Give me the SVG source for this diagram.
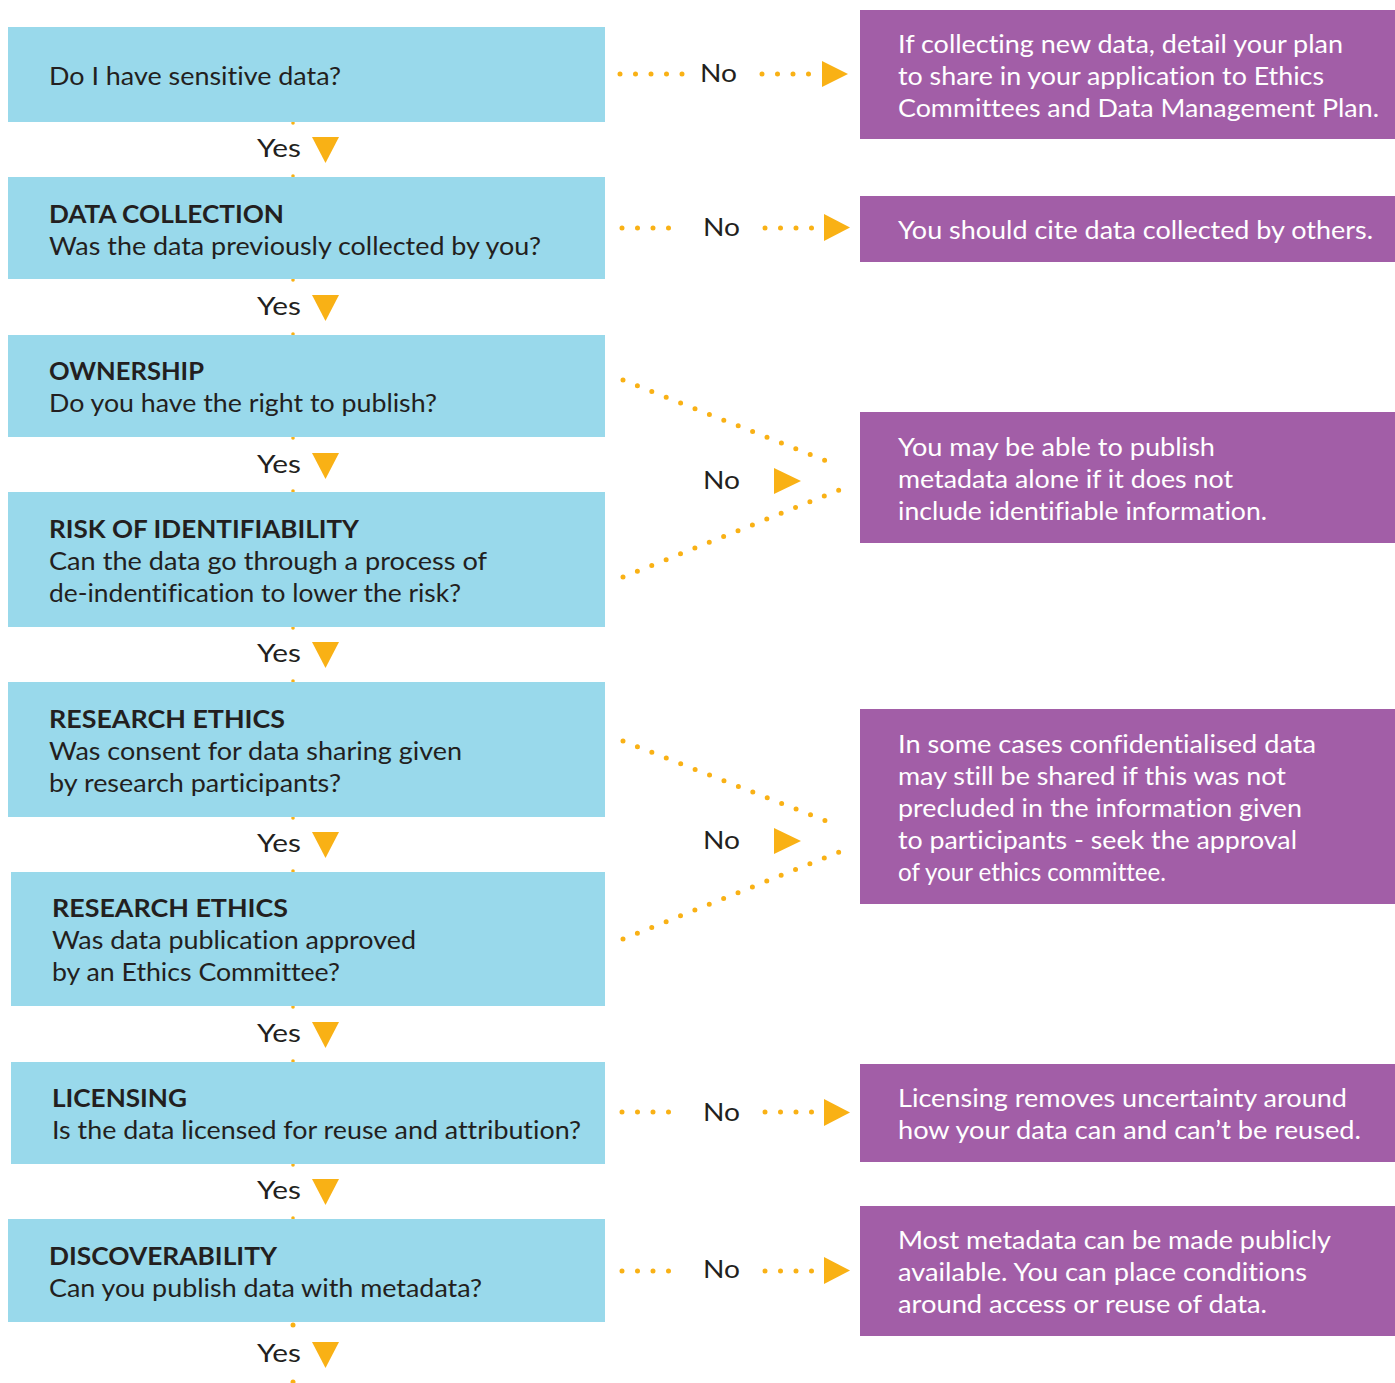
<svg xmlns="http://www.w3.org/2000/svg" width="1395" height="1383" viewBox="0 0 1395 1383">
<style>
.q{fill:#99D9EB}
.a{fill:#A25EA7}
.t{font-family:Lato,"Open Sans","Liberation Sans",sans-serif;font-size:25px;fill:#231F20;font-variant-ligatures:none;font-feature-settings:"liga" 0}
.b{font-weight:700}
.w{fill:#FFFFFF}
.dl{stroke:#F9B115;stroke-width:5;stroke-linecap:round;stroke-dasharray:0 15.5;fill:none}
.tri{fill:#F9B115}
.vd{fill:#F9B115}
</style>
<rect width="1395" height="1383" fill="#FFFFFF"/>
<g id="trunk-dots">
<circle class="vd" cx="293" cy="123" r="1.8"/><circle class="vd" cx="293" cy="176" r="1.8"/>
<circle class="vd" cx="293" cy="280" r="1.8"/><circle class="vd" cx="293" cy="334" r="1.8"/>
<circle class="vd" cx="293" cy="438" r="1.8"/><circle class="vd" cx="293" cy="491" r="1.8"/>
<circle class="vd" cx="293" cy="628" r="1.8"/><circle class="vd" cx="293" cy="681" r="1.8"/>
<circle class="vd" cx="293" cy="818" r="1.8"/><circle class="vd" cx="293" cy="871" r="1.8"/>
<circle class="vd" cx="293" cy="1007" r="1.8"/><circle class="vd" cx="293" cy="1061" r="1.8"/>
<circle class="vd" cx="293" cy="1165" r="1.8"/><circle class="vd" cx="293" cy="1218" r="1.8"/>
<circle class="vd" cx="293" cy="1325" r="2.5"/><circle class="vd" cx="293" cy="1382" r="2.5"/>
</g>
<g id="q1"><rect class="q" x="8" y="27" width="597" height="95"/>
<text class="t" x="49" y="85" textLength="292" lengthAdjust="spacingAndGlyphs">Do I have sensitive data?</text></g>
<g id="q2"><rect class="q" x="8" y="177" width="597" height="102"/>
<text class="t b" x="49" y="223" textLength="235" lengthAdjust="spacingAndGlyphs">DATA COLLECTION</text>
<text class="t" x="49" y="255" textLength="492" lengthAdjust="spacingAndGlyphs">Was the data previously collected by you?</text></g>
<g id="q3"><rect class="q" x="8" y="335" width="597" height="102"/>
<text class="t b" x="49" y="380" textLength="155" lengthAdjust="spacingAndGlyphs">OWNERSHIP</text>
<text class="t" x="49" y="412" textLength="388" lengthAdjust="spacingAndGlyphs">Do you have the right to publish?</text></g>
<g id="q4"><rect class="q" x="8" y="492" width="597" height="135"/>
<text class="t b" x="49" y="538" textLength="310" lengthAdjust="spacingAndGlyphs">RISK OF IDENTIFIABILITY</text>
<text class="t" x="49" y="570" textLength="438" lengthAdjust="spacingAndGlyphs">Can the data go through a process of</text>
<text class="t" x="49" y="602" textLength="412" lengthAdjust="spacingAndGlyphs">de-indentification to lower the risk?</text></g>
<g id="q5"><rect class="q" x="8" y="682" width="597" height="135"/>
<text class="t b" x="49" y="728" textLength="236" lengthAdjust="spacingAndGlyphs">RESEARCH ETHICS</text>
<text class="t" x="49" y="760" textLength="413" lengthAdjust="spacingAndGlyphs">Was consent for data sharing given</text>
<text class="t" x="49" y="792" textLength="292" lengthAdjust="spacingAndGlyphs">by research participants?</text></g>
<g id="q6"><rect class="q" x="11" y="872" width="594" height="134"/>
<text class="t b" x="52" y="917" textLength="236" lengthAdjust="spacingAndGlyphs">RESEARCH ETHICS</text>
<text class="t" x="52" y="949" textLength="364" lengthAdjust="spacingAndGlyphs">Was data publication approved</text>
<text class="t" x="52" y="981" textLength="288" lengthAdjust="spacingAndGlyphs">by an Ethics Committee?</text></g>
<g id="q7"><rect class="q" x="11" y="1062" width="594" height="102"/>
<text class="t b" x="52" y="1107" textLength="135" lengthAdjust="spacingAndGlyphs">LICENSING</text>
<text class="t" x="52" y="1139" textLength="529" lengthAdjust="spacingAndGlyphs">Is the data licensed for reuse and attribution?</text></g>
<g id="q8"><rect class="q" x="8" y="1219" width="597" height="103"/>
<text class="t b" x="49" y="1265" textLength="228" lengthAdjust="spacingAndGlyphs">DISCOVERABILITY</text>
<text class="t" x="49" y="1297" textLength="433" lengthAdjust="spacingAndGlyphs">Can you publish data with metadata?</text></g>

<g id="a1"><rect class="a" x="860" y="10" width="535" height="129"/>
<text class="t w" x="898" y="53" textLength="445" lengthAdjust="spacingAndGlyphs">If collecting new data, detail your plan</text>
<text class="t w" x="898" y="85" textLength="426" lengthAdjust="spacingAndGlyphs">to share in your application to Ethics</text>
<text class="t w" x="898" y="117" textLength="481" lengthAdjust="spacingAndGlyphs">Committees and Data Management Plan.</text></g>
<g id="a2"><rect class="a" x="860" y="196" width="535" height="66"/>
<text class="t w" x="898" y="239" textLength="475" lengthAdjust="spacingAndGlyphs">You should cite data collected by others.</text></g>
<g id="a3"><rect class="a" x="860" y="412" width="535" height="131"/>
<text class="t w" x="898" y="456" textLength="317" lengthAdjust="spacingAndGlyphs">You may be able to publish</text>
<text class="t w" x="898" y="488" textLength="335" lengthAdjust="spacingAndGlyphs">metadata alone if it does not</text>
<text class="t w" x="898" y="520" textLength="369" lengthAdjust="spacingAndGlyphs">include identifiable information.</text></g>
<g id="a4"><rect class="a" x="860" y="709" width="535" height="195"/>
<text class="t w" x="898" y="753" textLength="418" lengthAdjust="spacingAndGlyphs">In some cases confidentialised data</text>
<text class="t w" x="898" y="785" textLength="388" lengthAdjust="spacingAndGlyphs">may still be shared if this was not</text>
<text class="t w" x="898" y="817" textLength="404" lengthAdjust="spacingAndGlyphs">precluded in the information given</text>
<text class="t w" x="898" y="849" textLength="399" lengthAdjust="spacingAndGlyphs">to participants - seek the approval</text>
<text class="t w" x="898" y="881" textLength="268" lengthAdjust="spacingAndGlyphs">of your ethics committee.</text></g>
<g id="a5"><rect class="a" x="860" y="1064" width="535" height="98"/>
<text class="t w" x="898" y="1107" textLength="449" lengthAdjust="spacingAndGlyphs">Licensing removes uncertainty around</text>
<text class="t w" x="898" y="1139" textLength="463" lengthAdjust="spacingAndGlyphs">how your data can and can’t be reused.</text></g>
<g id="a6"><rect class="a" x="860" y="1206" width="535" height="130"/>
<text class="t w" x="898" y="1249" textLength="433" lengthAdjust="spacingAndGlyphs">Most metadata can be made publicly</text>
<text class="t w" x="898" y="1281" textLength="409" lengthAdjust="spacingAndGlyphs">available. You can place conditions</text>
<text class="t w" x="898" y="1313" textLength="369" lengthAdjust="spacingAndGlyphs">around access or reuse of data.</text></g>

<g id="connectors">
<g id="yes">
<text class="t" x="257" y="157" textLength="44" lengthAdjust="spacingAndGlyphs">Yes</text><polygon class="tri" points="312,137 339,137 325.5,163"/>
<text class="t" x="257" y="315" textLength="44" lengthAdjust="spacingAndGlyphs">Yes</text><polygon class="tri" points="312,295 339,295 325.5,321"/>
<text class="t" x="257" y="473" textLength="44" lengthAdjust="spacingAndGlyphs">Yes</text><polygon class="tri" points="312,453 339,453 325.5,479"/>
<text class="t" x="257" y="662" textLength="44" lengthAdjust="spacingAndGlyphs">Yes</text><polygon class="tri" points="312,642 339,642 325.5,668"/>
<text class="t" x="257" y="852" textLength="44" lengthAdjust="spacingAndGlyphs">Yes</text><polygon class="tri" points="312,832 339,832 325.5,858"/>
<text class="t" x="257" y="1042" textLength="44" lengthAdjust="spacingAndGlyphs">Yes</text><polygon class="tri" points="312,1022 339,1022 325.5,1048"/>
<text class="t" x="257" y="1199" textLength="44" lengthAdjust="spacingAndGlyphs">Yes</text><polygon class="tri" points="312,1179 339,1179 325.5,1205"/>
<text class="t" x="257" y="1362" textLength="44" lengthAdjust="spacingAndGlyphs">Yes</text><polygon class="tri" points="312,1342 339,1342 325.5,1368"/>
</g>
<g id="no1">
<line class="dl" x1="620" y1="74" x2="683" y2="74"/>
<text class="t" x="700" y="82" textLength="37" lengthAdjust="spacingAndGlyphs">No</text>
<line class="dl" x1="762" y1="74" x2="810" y2="74"/>
<polygon class="tri" points="822,61 848,74 822,87"/>
</g>
<g id="no2">
<line class="dl" x1="622" y1="228" x2="684" y2="228"/>
<text class="t" x="703" y="236" textLength="37" lengthAdjust="spacingAndGlyphs">No</text>
<line class="dl" x1="765" y1="228" x2="812" y2="228"/>
<polygon class="tri" points="824,214 850,227.5 824,241"/>
</g>
<g id="no3">
<line class="dl" x1="623" y1="380" x2="839" y2="466"/>
<line class="dl" x1="623" y1="577" x2="839" y2="490"/>
<text class="t" x="703" y="489" textLength="37" lengthAdjust="spacingAndGlyphs">No</text>
<polygon class="tri" points="774,468 801,481 774,494"/>
</g>
<g id="no4">
<line class="dl" x1="623" y1="741" x2="839" y2="826"/>
<line class="dl" x1="623" y1="939" x2="839" y2="852"/>
<text class="t" x="703" y="849" textLength="37" lengthAdjust="spacingAndGlyphs">No</text>
<polygon class="tri" points="774,828 801,841 774,854"/>
</g>
<g id="no5">
<line class="dl" x1="622" y1="1112" x2="684" y2="1112"/>
<text class="t" x="703" y="1121" textLength="37" lengthAdjust="spacingAndGlyphs">No</text>
<line class="dl" x1="765" y1="1112" x2="812" y2="1112"/>
<polygon class="tri" points="824,1099 850,1112.5 824,1126"/>
</g>
<g id="no6">
<line class="dl" x1="622" y1="1271" x2="684" y2="1271"/>
<text class="t" x="703" y="1278" textLength="37" lengthAdjust="spacingAndGlyphs">No</text>
<line class="dl" x1="765" y1="1271" x2="812" y2="1271"/>
<polygon class="tri" points="824,1257 850,1270.5 824,1284"/>
</g>
</g>
</svg>
